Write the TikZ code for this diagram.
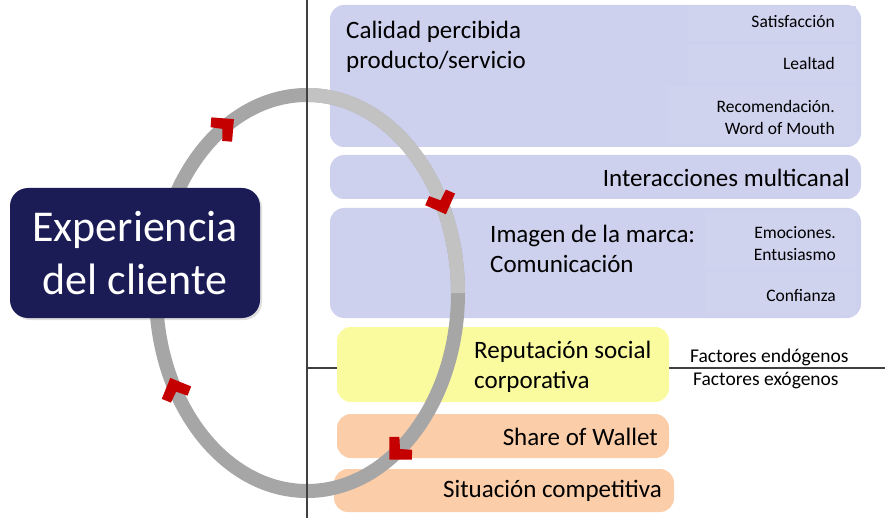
\documentclass[tikz,border=0pt]{standalone}
\usepackage{fontspec}
\setmainfont{Carlito}
\usepackage{tikz}
\usetikzlibrary{calc,shadows}

\definecolor{lavender}{RGB}{206,209,238}
\definecolor{lavsub}{RGB}{207,211,238}
\definecolor{lightyellow}{RGB}{250,250,158}
\definecolor{peach}{RGB}{251,205,168}
\definecolor{navy}{RGB}{27,27,86}
\definecolor{arrowred}{RGB}{196,0,0}
\definecolor{ringdark}{RGB}{166,166,166}
\definecolor{ringlight}{RGB}{194,194,194}
\definecolor{rulegray}{RGB}{64,64,64}

\tikzset{
  box/.style={rounded corners=14pt},
  subbox/.style={fill=lavsub},
  bigtext/.style={font=\fontsize{25}{30}\selectfont, text=black, inner sep=0pt},
  smalltext/.style={font=\fontsize{17.5}{22}\selectfont, text=black, inner sep=0pt, align=right},
  factext/.style={font=\fontsize{19.5}{23}\selectfont, text=black, inner sep=0pt}
}

\begin{document}
\begin{tikzpicture}[x=1pt,y=-1pt]
  \useasboundingbox (0,0) rectangle (885,518);

  %% Horizontal rule (under the boxes)
  \coordinate (HL) at (307,368);
  \coordinate (HR) at (885,368);
  \draw[rulegray, line width=1.2pt] (HL) -- (HR);

  %% The coloured boxes on the right
  \fill[lavender, box] (330,5) rectangle (861,147);
  \fill[subbox] (688,6) rectangle (856,41);
  \fill[subbox] (688,45) rectangle (856,82);
  \fill[subbox] (668,86) rectangle (856,144);
  \fill[lavender, box] (330,155) rectangle (861,199);
  \fill[lavender, box] (330,208) rectangle (861,318);
  \fill[subbox] (705,211) rectangle (856,268);
  \fill[subbox] (705,272) rectangle (856,315);
  \fill[lightyellow, box] (337,327) rectangle (669,402);
  \fill[peach, box] (337,414) rectangle (669,458);
  \fill[peach, box] (334,469) rectangle (674,512);

  %% Texts of the boxes
  \node[bigtext, anchor=west, align=left] (calidad) at (346,47) {Calidad percibida\\producto/servicio};
  \node[smalltext, anchor=east] (satis) at (835,22) {Satisfacción};
  \node[smalltext, anchor=east] (lealtad) at (835,63) {Lealtad};
  \node[smalltext, anchor=east] (recom) at (835,117) {Recomendación.\\Word of Mouth};
  \node[bigtext, anchor=east] (inter) at (850,178) {Interacciones multicanal};
  \node[bigtext, anchor=west, align=left] (imagen) at (490,249) {Imagen de la marca:\\Comunicación};
  \node[smalltext, anchor=east] (emoc) at (836,244) {Emociones.\\Entusiasmo};
  \node[smalltext, anchor=east] (confi) at (836,296) {Confianza};
  \node[bigtext, anchor=west, align=left] (reput) at (474,367) {Reputación social\\corporativa};
  \node[factext, anchor=west] (endo) at (690,357) {Factores endógenos};
  \node[factext, anchor=west] (exo) at (693,381) {Factores exógenos};
  \node[bigtext, anchor=east] (wallet) at (658,437) {Share of Wallet};
  \node[bigtext, anchor=east] (situ) at (662,491) {Situación competitiva};

  %% The ring
  \coordinate (RC) at (307,293);
  \draw[ringdark, line width=14pt] (RC) ellipse [x radius=151, y radius=198];
  \draw[ringlight, line width=14pt] ($(RC)+(151,0)$) arc [start angle=0, end angle=-90, x radius=151, y radius=198];

  %% Vertical rule
  \coordinate (VT) at (307,0);
  \coordinate (VB) at (307,518);
  \draw[rulegray, line width=1.2pt] (VT) -- (VB);

  %% Chevrons on the ring, clockwise
  \foreach \t in {123,27,-53,209}
  {
    \pgfmathsetmacro{\px}{307+151*cos(\t)}
    \pgfmathsetmacro{\py}{293-198*sin(\t)}
    \pgfmathsetmacro{\ang}{atan2(-198*cos(\t),151*sin(\t))}
    \fill[arrowred, shift={(\px,\py)}, rotate=\ang]
      (12,0) -- (-4,-16) -- (-11,-9) -- (-3,0) -- (-11,9) -- (-4,16) -- cycle;
  }

  %% Main box
  \node[fill=navy, rounded corners=18pt, minimum width=250pt, minimum height=130pt,
        drop shadow={opacity=0.25, shadow xshift=2pt, shadow yshift=-2pt},
        text=white, align=center, font=\fontsize{44}{53}\selectfont] (expcli) at (135,253)
        {Experiencia\\del cliente};
\end{tikzpicture}
\end{document}
